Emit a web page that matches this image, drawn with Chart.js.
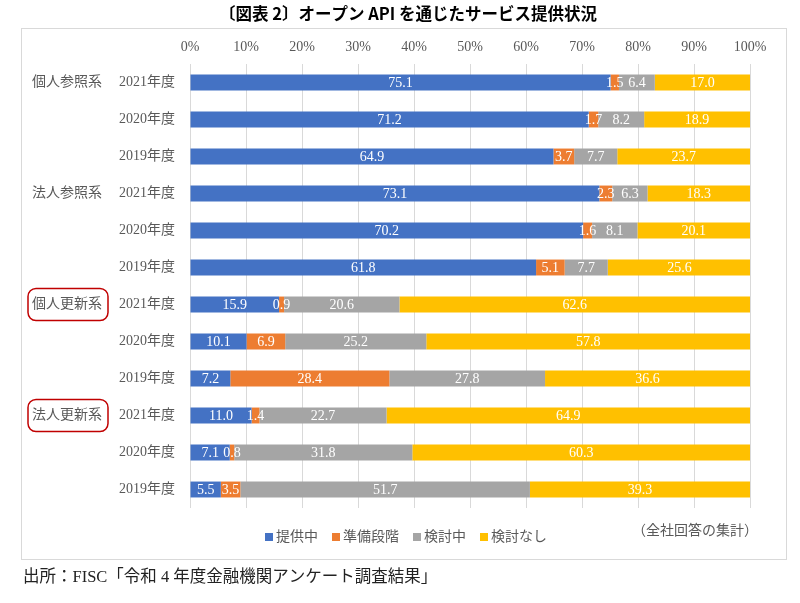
<!DOCTYPE html>
<html lang="ja">
<head>
<meta charset="utf-8">
<title>オープン API を通じたサービス提供状況</title>
<script src="https://cdn.jsdelivr.net/npm/chart.js@4.4.1/dist/chart.umd.min.js"></script>
<style>
  body { margin: 0; background: #fff; }
  #wrap { position: relative; width: 800px; height: 603px; }
</style>
</head>
<body>
<div id="wrap"><canvas id="grafico"></canvas></div>
<script>
// ==========================================
// DATOS DEL GRÁFICO
// ==========================================
const grupos = ["個人参照系", "法人参照系", "個人更新系", "法人更新系"];
const anios = ["2021年度", "2020年度", "2019年度"];
const gruposMarcados = ["個人更新系", "法人更新系"];

const series = ["提供中", "準備段階", "検討中", "検討なし"];
const provisto   = [75.1, 71.2, 64.9, 73.1, 70.2, 61.8, 15.9, 10.1, 7.2, 11.0, 7.1, 5.5];
const preparando = [1.5, 1.7, 3.7, 2.3, 1.6, 5.1, 0.9, 6.9, 28.4, 1.4, 0.8, 3.5];
const estudiando = [6.4, 8.2, 7.7, 6.3, 8.1, 7.7, 20.6, 25.2, 27.8, 22.7, 31.8, 51.7];
const ninguno    = [17.0, 18.9, 23.7, 18.3, 20.1, 25.6, 62.6, 57.8, 36.6, 64.9, 60.3, 39.3];

const ticksX = [0, 10, 20, 30, 40, 50, 60, 70, 80, 90, 100];

const titulo = "〔図表 2〕オープン API を通じたサービス提供状況";
const nota = "（全社回答の集計）";
const fuente = "出所：FISC「令和 4 年度金融機関アンケート調査結果」";

const colores = ["#4472C4", "#ED7D31", "#A5A5A5", "#FFC000"];
const fuenteTexto = "'Liberation Serif', 'Noto Sans CJK JP', serif";

// etiquetas: un año por fila, agrupadas
const etiquetas = [];
grupos.forEach(() => anios.forEach(a => etiquetas.push(a)));

// --- Plugin: marco, título, grupos, leyenda y notas ---
const decoracion = {
    id: "decoracion",
    beforeDraw(chart) {
        const ctx = chart.ctx;
        ctx.save();
        ctx.fillStyle = "#fff";
        ctx.fillRect(0, 0, chart.width, chart.height);
        ctx.strokeStyle = "#d9d9d9";
        ctx.lineWidth = 1;
        ctx.strokeRect(21.5, 28.5, 765, 531);

        ctx.fillStyle = "#000";
        ctx.font = "bold 16.5px 'Noto Sans CJK JP', sans-serif";
        ctx.textAlign = "center";
        ctx.textBaseline = "middle";
        ctx.fillText(titulo, 408, 14);

        ctx.fillStyle = "#222";
        ctx.font = "16.5px " + fuenteTexto;
        ctx.textAlign = "left";
        ctx.fillText(fuente, 23, 578);
        ctx.restore();
    },
    afterDraw(chart) {
        const ctx = chart.ctx;
        const y = chart.scales.y;
        ctx.save();
        ctx.font = "14px " + fuenteTexto;
        ctx.textBaseline = "middle";
        ctx.fillStyle = "#595959";

        // nombres de grupo
        grupos.forEach((g, i) => {
            const py = y.getPixelForValue(i * anios.length);
            ctx.textAlign = "left";
            ctx.fillStyle = "#595959";
            ctx.fillText(g, 32, py);
            if (gruposMarcados.includes(g)) {
                ctx.strokeStyle = "#C00000";
                ctx.lineWidth = 1.5;
                ctx.beginPath();
                ctx.roundRect(28, py - 16, 80, 32, 8);
                ctx.stroke();
            }
        });

        // leyenda
        const items = chart.data.datasets.map(d => ({ texto: d.label, color: d.backgroundColor }));
        const cuadro = 8, hueco = 3, sep = 14;
        let total = 0;
        items.forEach((it, i) => {
            it.w = cuadro + hueco + ctx.measureText(it.texto).width;
            total += it.w + (i ? sep : 0);
        });
        let x = 406 - total / 2;
        items.forEach(it => {
            ctx.fillStyle = it.color;
            ctx.fillRect(x, 537 - cuadro / 2, cuadro, cuadro);
            ctx.fillStyle = "#595959";
            ctx.textAlign = "left";
            ctx.fillText(it.texto, x + cuadro + hueco, 537);
            x += it.w + sep;
        });

        // nota
        ctx.textAlign = "right";
        ctx.fillText(nota, 758, 531);
        ctx.restore();
    }
};

// --- Plugin: valores dentro de cada segmento ---
const valores = {
    id: "valores",
    afterDatasetsDraw(chart) {
        const ctx = chart.ctx;
        ctx.save();
        ctx.font = "14px 'Liberation Serif', serif";
        ctx.fillStyle = "#fff";
        ctx.textAlign = "center";
        ctx.textBaseline = "middle";
        chart.data.datasets.forEach((ds, i) => {
            chart.getDatasetMeta(i).data.forEach((bar, j) => {
                const p = bar.getProps(["x", "y", "base"], true);
                ctx.fillText(ds.data[j].toFixed(1), (p.x + p.base) / 2, p.y + 1);
            });
        });
        ctx.restore();
    }
};

document.addEventListener("DOMContentLoaded", () => {
    const datos = [provisto, preparando, estudiando, ninguno];
    new Chart(document.getElementById("grafico"), {
        type: "bar",
        data: {
            labels: etiquetas,
            datasets: series.map((s, i) => ({
                label: s,
                data: datos[i],
                backgroundColor: colores[i],
                barPercentage: 0.43,
                categoryPercentage: 1
            }))
        },
        options: {
            indexAxis: "y",
            responsive: true,
            maintainAspectRatio: false,
            animation: false,
            layout: { padding: { left: 20, right: 50, top: 30, bottom: 95 } },
            plugins: {
                legend: { display: false },
                tooltip: { enabled: false }
            },
            scales: {
                x: {
                    position: "top",
                    stacked: true,
                    min: 0,
                    max: 100,
                    afterFit: s => { s.height = 34; },
                    afterBuildTicks: s => { s.ticks = ticksX.map(v => ({ value: v })); },
                    grid: { color: "#d9d9d9", drawTicks: false },
                    border: { display: false },
                    ticks: {
                        padding: 8,
                        color: "#595959",
                        font: { family: fuenteTexto, size: 14 },
                        callback: v => v + "%"
                    }
                },
                y: {
                    stacked: true,
                    afterFit: s => { s.width = 170; },
                    grid: { display: false, drawTicks: false },
                    border: { display: false },
                    ticks: {
                        padding: 15,
                        color: "#595959",
                        font: { family: fuenteTexto, size: 14 }
                    }
                }
            }
        },
        plugins: [decoracion, valores]
    });
});
</script>
</body>
</html>
